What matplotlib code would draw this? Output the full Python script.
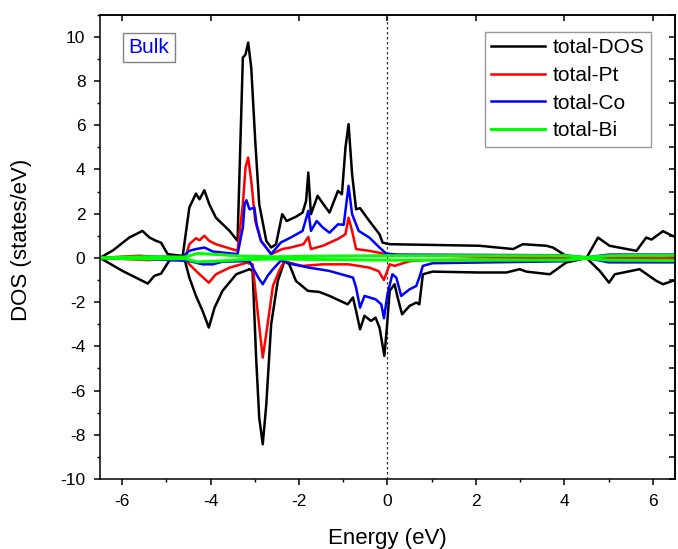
import numpy as np
import matplotlib.pyplot as plt
from matplotlib.ticker import MultipleLocator

plt.rcParams['font.family'] = ['Liberation Sans', 'DejaVu Sans']
plt.rcParams['axes.unicode_minus'] = False

# total DOS (black), spin up / spin down
e_tot_up = [-6.5, -6.2, -5.84, -5.69, -5.54, -5.38, -5.23, -5.12, -4.97, -4.63, -4.48, -4.33, -4.25, -4.14,
            -4.03, -3.88, -3.57, -3.39, -3.27, -3.21, -3.15, -3.08, -2.99, -2.90, -2.74, -2.63, -2.52, -2.38,
            -2.28, -2.07, -1.92, -1.84, -1.79, -1.73, -1.58, -1.46, -1.31, -1.12, -1.03, -0.95, -0.88, -0.80,
            -0.71, -0.62, -0.41, -0.18, -0.11, 0.05, 2.08, 2.84, 3.06, 3.59, 3.74, 4.04, 4.5, 4.76, 5.02,
            5.63, 5.85, 5.97, 6.23, 6.38, 6.5]
tot_up = [0.0, 0.35, 0.92, 1.07, 1.22, 0.92, 0.77, 0.69, 0.17, 0.09, 2.28, 2.91, 2.65, 3.06,
          2.43, 1.82, 1.22, 0.77, 9.06, 9.2, 9.74, 8.6, 5.29, 2.43, 0.77, 0.47, 0.62, 1.98,
          1.67, 1.86, 2.05, 2.58, 3.86, 1.98, 2.81, 2.46, 2.05, 3.03, 2.88, 4.99, 6.05, 3.79,
          2.2, 2.25, 1.67, 1.07, 0.69, 0.62, 0.55, 0.4, 0.62, 0.55, 0.47, 0.09, 0.0, 0.92, 0.55,
          0.32, 0.92, 0.83, 1.21, 1.06, 0.95]
e_tot_dn = [-6.5, -5.99, -5.69, -5.42, -5.27, -5.12, -4.93, -4.59, -4.48, -4.33, -4.18, -4.04, -3.91, -3.73,
            -3.42, -3.12, -3.05, -2.97, -2.90, -2.82, -2.74, -2.63, -2.48, -2.33, -2.22, -2.07, -1.80, -1.54,
            -1.31, -0.90, -0.78, -0.71, -0.62, -0.52, -0.37, -0.27, -0.18, -0.07, -0.02, 0.05, 0.16, 0.23,
            0.33, 0.50, 0.65, 0.72, 0.80, 1.02, 2.08, 2.69, 2.99, 3.14, 3.67, 4.04, 4.5, 4.80, 5.01, 5.14,
            5.70, 6.08, 6.23, 6.45, 6.5]
tot_dn = [0.0, -0.59, -0.89, -1.16, -0.81, -0.71, -0.11, -0.05, -0.89, -1.72, -2.4, -3.15, -2.25, -1.49,
          -0.74, -0.51, -0.59, -4.51, -7.23, -8.43, -6.62, -3.0, -1.04, -0.14, -0.29, -1.04, -1.49, -1.54,
          -1.72, -2.1, -1.79, -2.4, -3.23, -2.62, -2.85, -2.7, -3.15, -4.43, -3.3, -1.49, -1.19, -1.79,
          -2.55, -2.17, -2.02, -2.1, -0.74, -0.62, -0.66, -0.66, -0.51, -0.62, -0.74, -0.21, 0.0, -0.59, -1.12, -0.74,
          -0.51, -1.04, -1.19, -1.04, -1.0]

# Pt (red)
e_pt_up = [-6.5, -5.8, -5.6, -5.2, -4.63, -4.55, -4.48, -4.33, -4.25, -4.14, -4.03, -3.88, -3.39, -3.27,
           -3.21, -3.15, -3.08, -2.99, -2.86, -2.63, -2.38, -2.19, -1.9, -1.79, -1.73, -1.46, -1.12, -0.95,
           -0.88, -0.80, -0.71, -0.41, -0.11, 0.05, 2.0, 4.5, 5.0, 6.5]
pt_up = [0.0, 0.08, 0.1, 0.03, 0.05, 0.12, 0.62, 0.89, 0.8, 1.0, 0.77, 0.62, 0.32, 2.43,
         4.09, 4.54, 3.48, 1.67, 0.77, 0.17, 0.4, 0.47, 0.62, 0.95, 0.4, 0.55, 0.86, 1.07,
         1.82, 1.22, 0.4, 0.32, 0.2, 0.14, 0.06, 0.0, 0.06, 0.08]
e_pt_dn = [-6.5, -5.42, -4.59, -4.48, -4.25, -4.04, -3.88, -3.57, -3.19, -3.05, -2.93, -2.82, -2.71, -2.59,
           -2.45, -2.33, -2.22, -1.92, -1.46, -0.88, -0.41, -0.2, -0.08, 0.05, 0.16, 0.27, 0.5, 0.8,
           4.0, 4.5, 6.5]
pt_dn = [0.0, -0.1, 0.0, -0.29, -0.74, -1.12, -0.74, -0.44, -0.22, -0.29, -2.55, -4.51, -3.0, -1.27,
         -0.59, -0.14, -0.22, -0.36, -0.29, -0.29, -0.44, -0.6, -1.0, -0.29, -0.36, -0.29, -0.15, -0.1,
         -0.05, 0.0, -0.03]

# Co (blue)
e_co_up = [-6.5, -5.5, -4.63, -4.48, -4.33, -4.14, -3.95, -3.39, -3.27, -3.23, -3.19, -3.12, -3.01, -2.96,
           -2.86, -2.63, -2.41, -2.19, -1.92, -1.79, -1.73, -1.6, -1.46, -1.31, -1.12, -0.99, -0.88, -0.80,
           -0.65, -0.41, -0.18, -0.03, 0.2, 4.0, 4.5, 5.0, 6.5]
co_up = [0.0, 0.05, 0.05, 0.32, 0.4, 0.47, 0.29, 0.17, 1.37, 2.43, 2.61, 2.2, 2.28, 1.52,
         0.77, 0.17, 0.7, 0.92, 1.22, 2.13, 1.22, 1.67, 1.37, 1.14, 1.52, 1.5, 3.26, 1.98,
         1.22, 0.92, 0.47, 0.2, 0.15, 0.12, 0.02, 0.15, 0.15]
e_co_dn = [-6.5, -5.42, -4.48, -4.18, -3.95, -3.73, -3.12, -3.03, -2.90, -2.82, -2.71, -2.59, -2.41, -2.14,
           -1.77, -1.31, -0.78, -0.71, -0.62, -0.52, -0.27, -0.14, -0.08, 0.0, 0.11, 0.2, 0.31, 0.5,
           0.65, 0.72, 0.80, 1.02, 4.0, 4.5, 5.0, 6.5]
co_dn = [0.0, -0.05, -0.14, -0.29, -0.29, -0.17, -0.14, -0.51, -0.96, -1.19, -0.81, -0.51, -0.12, -0.29,
         -0.44, -0.59, -0.89, -1.34, -2.25, -1.72, -1.87, -2.1, -2.73, -1.64, -0.74, -0.89, -1.72, -1.42,
         -1.27, -0.89, -0.36, -0.24, -0.15, 0.0, -0.2, -0.2]

# Bi (green)
e_bi = [-6.5, -5.5, -4.6, -4.3, -3.8, -3.3, -2.6, -1.5, 0.0, 2.0, 4.0, 4.5, 5.0, 6.5]
bi_up = [0.0, 0.05, 0.03, 0.2, 0.15, 0.08, 0.05, 0.08, 0.1, 0.1, 0.1, 0.02, 0.1, 0.12]
bi_dn = [0.0, -0.05, -0.03, -0.18, -0.14, -0.08, -0.05, -0.07, -0.1, -0.1, -0.1, -0.02, -0.1, -0.12]

fig = plt.figure(figsize=(6.78, 5.49), dpi=100)
ax = fig.add_axes([0.1475, 0.1275, 0.848, 0.8457])

lw = 1.8
ax.plot(e_tot_up, tot_up, color='black', lw=lw, label='total-DOS')
ax.plot(e_tot_dn, tot_dn, color='black', lw=lw)
ax.plot(e_pt_up, pt_up, color='#ff0000', lw=lw, label='total-Pt')
ax.plot(e_pt_dn, pt_dn, color='#ff0000', lw=lw)
ax.plot(e_co_up, co_up, color='#0000ff', lw=lw, label='total-Co')
ax.plot(e_co_dn, co_dn, color='#0000ff', lw=lw)
ax.plot(e_bi, bi_up, color='#00ff00', lw=2.2, label='total-Bi')
ax.plot(e_bi, bi_dn, color='#00ff00', lw=2.2)

ax.axvline(0, color='#333333', ls=(0, (2, 2)), lw=0.9, zorder=0)

ax.set_xlim(-6.5, 6.5)
ax.set_ylim(-10, 11)
ax.xaxis.set_major_locator(MultipleLocator(2))
ax.xaxis.set_minor_locator(MultipleLocator(1))
ax.yaxis.set_major_locator(MultipleLocator(2))
ax.yaxis.set_minor_locator(MultipleLocator(1))
ax.tick_params(which='major', direction='out', length=4.5, width=1.1, labelsize=12.5, pad=6)
ax.tick_params(which='minor', direction='out', length=2.5, width=1.0)

top = ax.secondary_xaxis('top')
top.xaxis.set_major_locator(MultipleLocator(2))
top.tick_params(direction='in', length=4.5, width=1.1, labeltop=False)
right = ax.secondary_yaxis('right')
right.yaxis.set_major_locator(MultipleLocator(1))
right.tick_params(direction='in', length=4.5, width=1.1, labelright=False)
for a in (ax, top, right):
    for s in a.spines.values():
        s.set_linewidth(1.1)

ax.set_xlabel('Energy (eV)', fontsize=16)
ax.set_ylabel('DOS (states/eV)', fontsize=16)
ax.xaxis.set_label_coords(0.5, -0.106)
ax.yaxis.set_label_coords(-0.118, 0.515)

ax.text(0.085, 0.930, 'Bulk', transform=ax.transAxes, color='#0000ff', fontsize=15,
        ha='center', va='center',
        bbox=dict(boxstyle='square,pad=0.25', facecolor='white', edgecolor='#808080', lw=1))

leg = ax.legend(loc='upper right', bbox_to_anchor=(0.958, 0.963), fontsize=15, frameon=True,
                fancybox=False, edgecolor='#808080', handlelength=2.6, handletextpad=0.35,
                labelspacing=0.42, borderpad=0.3, borderaxespad=0)
leg.get_frame().set_linewidth(1.0)

fig.savefig('out.png', dpi=100)
